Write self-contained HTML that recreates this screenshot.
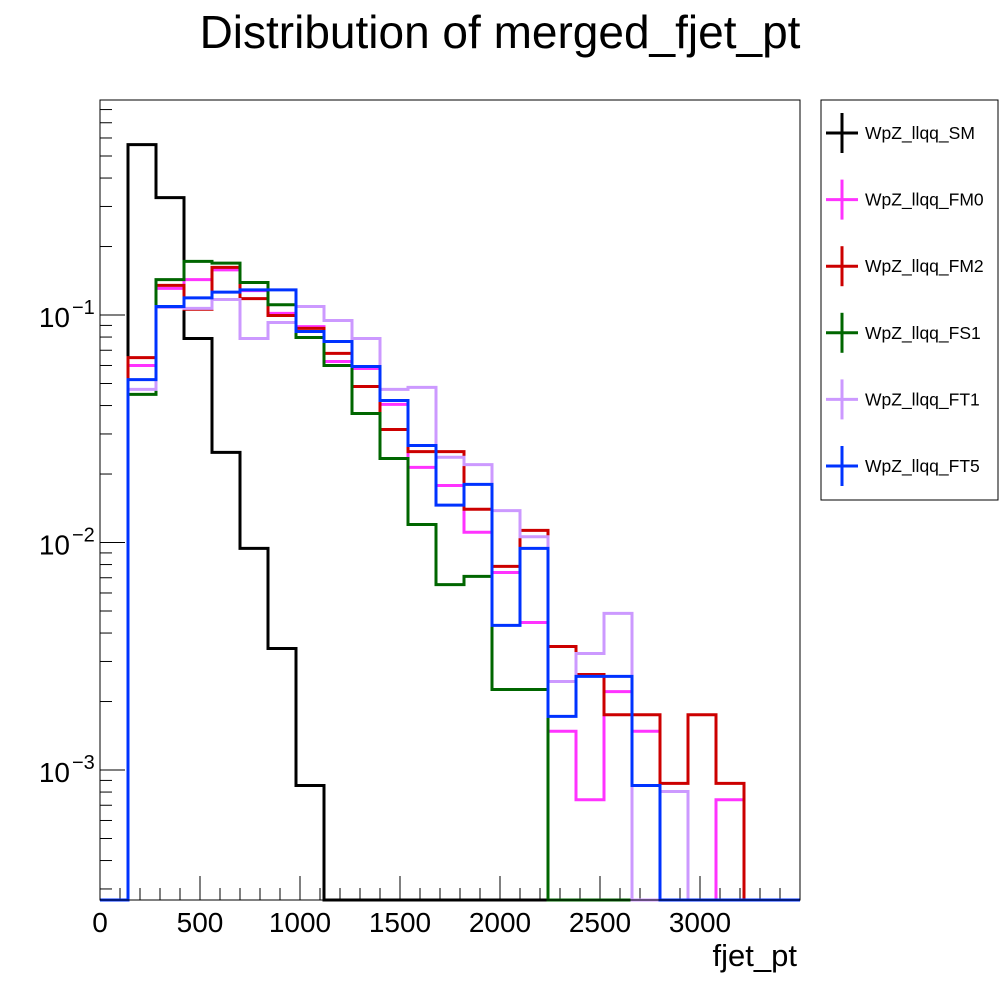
<!DOCTYPE html>
<html><head><meta charset="utf-8"><style>
body{margin:0;background:#fff;}
svg{display:block;font-family:"Liberation Sans",sans-serif;}
</style></head><body>
<svg id="c" width="1000" height="1000">
<text x="500" y="48" font-size="46" text-anchor="middle">Distribution of merged_fjet_pt</text>
<text x="797" y="966" font-size="31" text-anchor="end">fjet_pt</text>
<g id="plot"></g>
<rect x="100" y="100" width="700" height="800" fill="none" stroke="#000" stroke-width="1"/>
<g id="legend"></g>
</svg>
<script>
const binStart = 140, binWidth = 140;
const seriesNames = ["WpZ_llqq_SM","WpZ_llqq_FM0","WpZ_llqq_FM2","WpZ_llqq_FS1","WpZ_llqq_FT1","WpZ_llqq_FT5"];
const seriesColors = ["#000000","#ff33ff","#cc0000","#006600","#cc99ff","#0033ff"];
const valuesSM  = [0.561,0.328,0.0788,0.0249,0.00942,0.00342,0.000855,0,0,0,0,0,0,0,0,0,0,0,0,0,0,0,0];
const valuesFM0 = [0.060,0.131,0.143,0.158,0.128,0.1017,0.0889,0.0625,0.0582,0.0405,0.0214,0.0178,0.0111,0.00738,0.00445,0.00148,0.00074,0.00221,0.00148,0,0,0.00074,0];
const valuesFM2 = [0.065,0.135,0.106,0.162,0.118,0.0995,0.0873,0.0678,0.0485,0.0314,0.0251,0.0251,0.0140,0.00785,0.0113,0.00349,0.00263,0.00175,0.00175,0.000873,0.00175,0.000873,0];
const valuesFS1 = [0.0448,0.143,0.172,0.169,0.139,0.111,0.0796,0.060,0.0369,0.0234,0.0120,0.00653,0.0071,0.00226,0.00226,0,0,0,0,0,0,0,0];
const valuesFT1 = [0.0471,0.108,0.107,0.117,0.0788,0.0927,0.109,0.0946,0.0788,0.0471,0.0481,0.0237,0.0220,0.0138,0.0106,0.00245,0.00325,0.00488,0,0.000804,0,0,0];
const valuesFT5 = [0.052,0.109,0.119,0.126,0.129,0.129,0.0846,0.0765,0.0594,0.0421,0.0267,0.0146,0.0180,0.00432,0.00942,0.00172,0.00258,0.00258,0.000855,0,0,0,0];
const xTicks = [0,500,1000,1500,2000,2500,3000];
const yTickExps = [-3,-2,-1];
const allValues = [valuesSM,valuesFM0,valuesFM2,valuesFS1,valuesFT1,valuesFT5];

const X0=100,X1=800,Y0=900,Y1=100, xmin=0,xmax=3500;
const ymin=Math.pow(10,-3.5714), ymax=Math.pow(10,-0.0549);
const xs=v=>X0+(v-xmin)/(xmax-xmin)*(X1-X0);
const ys=v=>{ if(v<=ymin) return Y0; let y=Y0-(Math.log10(v)-Math.log10(ymin))/(Math.log10(ymax)-Math.log10(ymin))*(Y0-Y1); return Math.max(Y1,y);};
const NS='http://www.w3.org/2000/svg';
const plot=document.getElementById('plot'), svg=document.getElementById('c'), leg=document.getElementById('legend');
function mk(tag,attrs,parent){const e=document.createElementNS(NS,tag);for(const k in attrs)e.setAttribute(k,attrs[k]);parent.appendChild(e);return e;}

for(let v=0; v<=3500; v+=100){
  const major = v%500===0;
  const t=mk('line',{x1:xs(v),x2:xs(v),y1:Y0,y2:Y0-(major?24:12),stroke:'#000','stroke-width':1},plot);
  
  
}
xTicks.forEach(v=>{
  const t=mk('text',{x:xs(v),y:932,'font-size':28,'text-anchor':'middle'},svg);
  t.textContent=v;
  
  
});
for(let e=-4;e<=0;e++){
  for(let m=1;m<=9;m++){
    const v=m*Math.pow(10,e);
    if(v<ymin||v>ymax) continue;
    const y=ys(v);
    const t=mk('line',{x1:X0,x2:X0+(m===1?25:12),y1:y,y2:y,stroke:'#000','stroke-width':1},plot);
    
    
  }
}
yTickExps.forEach(e=>{
  const y=ys(Math.pow(10,e));
  const t=mk('text',{x:70,y:y+12,'font-size':28,'text-anchor':'end'},svg);
  t.textContent='10';
  
  
  const s=mk('tspan',{x:72,dy:-13,'font-size':20,'text-anchor':'start'},t);
  s.textContent='\u2212'+(-e);
});
allValues.forEach((vals,i)=>{
  let d='M'+X0+','+Y0+' L'+xs(binStart)+','+Y0;
  vals.forEach((v,j)=>{
    const a=xs(binStart+j*binWidth), b=xs(binStart+(j+1)*binWidth), y=ys(v);
    d+=' L'+a+','+y+' L'+b+','+y;
  });
  d+=' L'+xs(binStart+vals.length*binWidth)+','+Y0+' L'+X1+','+Y0;
  const p=mk('path',{d:d,fill:'none',stroke:seriesColors[i],'stroke-width':3,'stroke-linejoin':'miter'},plot);
  
  
});
const lb=mk('rect',{x:821,y:100,width:177,height:400,fill:'#fff',stroke:'#000','stroke-width':1},leg);


seriesNames.forEach((n,i)=>{
  const cy=133+i*66.6;
  const g=mk('g',{},leg);
  
  
  mk('line',{x1:826,x2:858,y1:cy,y2:cy,stroke:seriesColors[i],'stroke-width':3},g);
  mk('line',{x1:842,x2:842,y1:cy-20,y2:cy+20,stroke:seriesColors[i],'stroke-width':3},g);
  const t=mk('text',{x:865,y:cy+6,'font-size':17.5},g);
  t.textContent=n;
});
</script>
</body></html>
